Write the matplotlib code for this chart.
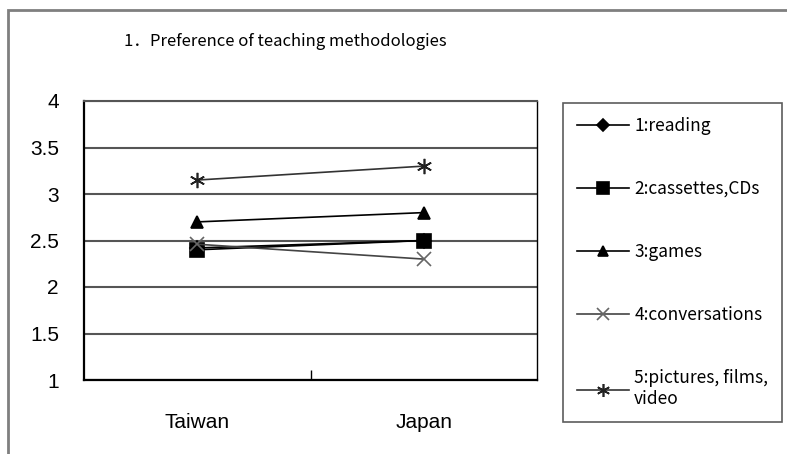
import matplotlib.pyplot as plt
from matplotlib.patches import Rectangle

plt.rcParams['font.family'] = ['Liberation Sans', 'DejaVu Sans']

countries = ["Taiwan", "Japan"]
labels = ["1:reading", "2:cassettes,CDs", "3:games", "4:conversations",
          "5:pictures, films,\nvideo"]
reading = [2.42, 2.5]
cassettes = [2.4, 2.5]
games = [2.7, 2.8]
conversations = [2.46, 2.3]
pictures = [3.15, 3.3]

series = [reading, cassettes, games, conversations, pictures]
markers = ["D", "s", "^", "x", (6, 2, 0)]
msizes = [7, 10, 9, 10, 11]
line_colors = ["black", "black", "black", "#444444", "#333333"]
marker_colors = ["black", "black", "black", "#666666", "#222222"]

fig = plt.figure(figsize=(7.87, 4.54), dpi=100)
fig.patches.append(Rectangle((8 / 787, -0.1), 1.1, 1 - 10 / 454 + 0.1,
                             transform=fig.transFigure, fill=False,
                             edgecolor="#7f7f7f", linewidth=2))
ax = fig.add_axes([84 / 787, 1 - 380 / 454, 453 / 787, 279 / 454])

xs = [0.25, 0.75]
for vals, lab, m, ms, lc, mc in zip(series, labels, markers, msizes,
                                     line_colors, marker_colors):
    ax.plot(xs, vals, color=lc, linewidth=1.2, marker=m, markersize=ms,
            markerfacecolor=mc, markeredgecolor=mc, markeredgewidth=1.2,
            label=lab, zorder=3)

ax.set_xlim(0, 1)
ax.set_ylim(1, 4)
ax.set_yticks([1, 1.5, 2, 2.5, 3, 3.5, 4])
ax.set_yticklabels(["1", "1.5", "2", "2.5", "3", "3.5", "4"], fontsize=15)
ax.yaxis.grid(True, color="#555555", linewidth=1.5)
ax.tick_params(axis="y", length=0, pad=18)

ax.set_xticks([0.5])
ax.set_xticklabels([""])
ax.tick_params(axis="x", which="major", direction="in", length=7, width=1)
ax.set_xticks(xs, minor=True)
ax.set_xticklabels(countries, minor=True, fontsize=15)
ax.tick_params(axis="x", which="minor", length=0, pad=24)

ax.spines["left"].set_linewidth(1.6)
ax.spines["bottom"].set_linewidth(1.6)
ax.spines["right"].set_linewidth(1.0)
ax.spines["top"].set_color("#555555")
ax.spines["top"].set_linewidth(1.5)

fig.text(285 / 787, 1 - 41 / 454, "1．Preference of teaching methodologies",
         ha="center", va="center", fontsize=12,
         family=["Noto Sans CJK JP", "DejaVu Sans"])

leg = fig.legend(loc="upper left", bbox_to_anchor=(563 / 787, 1 - 103 / 454),
                 prop={"family": ["Noto Sans CJK JP", "DejaVu Sans"], "size": 12.5},
                 frameon=True, fancybox=False, edgecolor="#333333",
                 handlelength=3.0, handletextpad=0.3, labelspacing=2.6,
                 borderpad=0.8, borderaxespad=0, markerscale=0.85)
leg.get_frame().set_linewidth(1.2)

fig.savefig("out.png", dpi=100)
